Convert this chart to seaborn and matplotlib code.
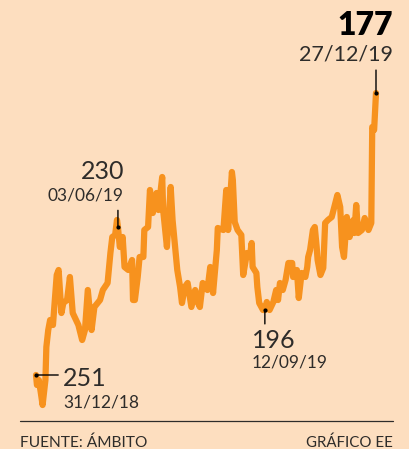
import matplotlib
matplotlib.use("Agg")
import matplotlib.pyplot as plt
import pandas as pd
import seaborn as sns

# posicion horizontal (dias desde 31/12/18) y nivel
dias = [0, 1, 3, 5, 7, 10, 11, 13, 15, 18,
        20, 22, 24, 27, 29, 33, 36, 39, 45, 49,
        52, 55, 59, 62, 68, 71, 76, 79, 81, 84,
        86, 87, 89, 92, 94, 98, 102, 103, 105, 108,
        110, 114, 115, 119, 121, 124, 128, 130, 134, 135,
        139, 143, 145, 150, 153, 155, 158, 161, 165, 169,
        172, 174, 177, 182, 185, 188, 192, 193, 199, 202,
        204, 208, 209, 211, 214, 218, 220, 224, 227, 229,
        230, 234, 235, 237, 241, 243, 245, 248, 252, 255,
        257, 259, 262, 265, 268, 272, 273, 277, 279, 282,
        286, 288, 289, 291, 294, 296, 298, 299, 302, 305,
        307, 310, 314, 320, 323, 325, 327, 330, 333, 337,
        338, 340, 342, 346, 349, 353, 356, 357, 359, 361]
nivel = [74, 64, 69, 57, 44, 69, 102, 119, 129, 124,
         149, 174, 179, 136, 146, 149, 172, 136, 124, 109,
         119, 159, 119, 142, 149, 159, 166, 196, 212, 214,
         229, 222, 202, 212, 182, 179, 189, 149, 149, 172,
         192, 192, 219, 222, 259, 236, 256, 239, 272, 239,
         202, 262, 229, 179, 162, 146, 162, 166, 142, 159,
         146, 142, 166, 159, 182, 156, 199, 221, 219, 259,
         219, 277, 269, 227, 219, 214, 174, 196, 192, 206,
         182, 176, 162, 146, 139, 139, 147, 139, 147, 159,
         149, 166, 159, 169, 186, 186, 172, 179, 151, 176,
         172, 182, 192, 199, 219, 222, 202, 189, 174, 181,
         226, 229, 232, 254, 242, 202, 192, 232, 212, 229,
         216, 244, 216, 219, 231, 219, 226, 322, 319, 356]

# puntos destacados
dias_dest = [0, 87, 243, 361]
valores_dest = ["251", "230", "196", "177"]
fechas_dest = ["31/12/18", "03/06/19", "12/09/19", "27/12/19"]

fondo = "#FDDEBF"
naranja = "#F7921E"
gris = "#2E2C2A"

sns.set_theme(style="white")
plt.rcParams["font.family"] = ["Lato", "DejaVu Sans"]

W, H = 409, 449
fig = plt.figure(figsize=(W / 100, H / 100), dpi=100)
fig.patch.set_facecolor(fondo)


def fx(x):
    return x / W


def fy(y):
    return 1 - y / H


ax = fig.add_axes([fx(36), fy(405), 340 / W, 312 / H])
ax.set_facecolor(fondo)
df = pd.DataFrame({"dia": dias, "nivel": nivel})
sns.lineplot(data=df, x="dia", y="nivel", ax=ax, color=naranja, linewidth=4.5,
             sort=False, estimator=None, solid_joinstyle="round", clip_on=False)
ax.set_xlim(0, 361)
ax.set_ylim(44, 356)
ax.axis("off")

# marcas de los puntos destacados
offsets = [(16, 0), (0, 12), (0, -10), (0, 16.5)]
for d, off in zip(dias_dest, offsets):
    v = df.loc[df["dia"] == d, "nivel"].iloc[0]
    ax.plot([d], [v], "o", color="black", markersize=2, clip_on=False)
    ax.annotate("", xy=(d, v), xytext=off, textcoords="offset points",
                arrowprops=dict(arrowstyle="-", color="black", lw=1,
                                shrinkA=0, shrinkB=0))

# textos
num = dict(fontsize=18, color=gris, va="baseline")
fec = dict(fontsize=12.5, color=gris, va="baseline")
fig.text(fx(63), fy(386), valores_dest[0], ha="left", **num)
fig.text(fx(63), fy(407), fechas_dest[0], ha="left", **fec)
fig.text(fx(124), fy(179), valores_dest[1], ha="right", **num)
fig.text(fx(124), fy(200), fechas_dest[1], ha="right", **fec)
fig.text(fx(252), fy(348), valores_dest[2], ha="left", **num)
fig.text(fx(252), fy(368), fechas_dest[2], ha="left", **fec)
fig.text(fx(393), fy(35), valores_dest[3], fontsize=23, color="black",
         fontweight="heavy", ha="right", va="baseline")
fig.text(fx(393), fy(60), fechas_dest[3], fontsize=15.5, color=gris,
         ha="right", va="baseline")

# pie
fig.add_artist(plt.Line2D([fx(20), fx(393)], [fy(420.5), fy(420.5)],
                          color=gris, lw=0.9))
fig.text(fx(20), fy(447), "FUENTE: ÁMBITO", fontsize=11.2, color=gris,
         ha="left", va="baseline")
fig.text(fx(393), fy(447), "GRÁFICO EE", fontsize=10.8, color=gris,
         ha="right", va="baseline")

fig.savefig("out.png", dpi=100, facecolor=fondo)
